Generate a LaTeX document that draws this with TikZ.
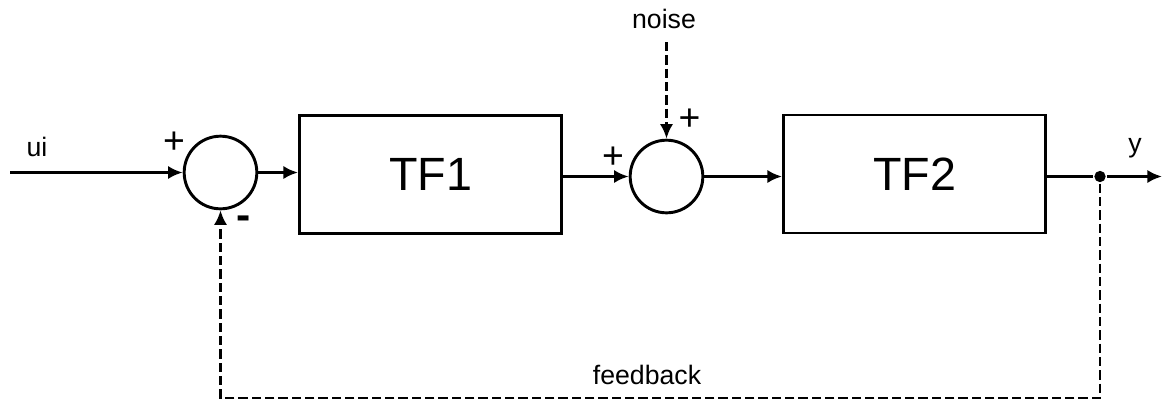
\documentclass[tikz,border=0pt]{standalone}
\usepackage{fontspec}
\setmainfont{Liberation Sans}
\usetikzlibrary{arrows.meta}

\tikzset{every picture/.style={line width=2.2pt}}
\tikzset{
  blockbox/.style={draw, minimum width=196.5pt, minimum height=88.5pt, inner sep=0pt, font=\fontsize{35}{40}\selectfont},
  sumcircle/.style={draw, circle, minimum size=54.5pt, inner sep=0pt},
  branchdot/.style={circle, fill, minimum size=8.5pt, inner sep=0pt},
  sig/.style={-{Latex[length=11pt,width=10pt]}},
  fb/.style={dash pattern=on 7pt off 3pt},
  lbl/.style={inner sep=0.75pt, font=\fontsize{20}{24}\selectfont},
  sgn/.style={inner sep=0.75pt, font=\fontsize{28}{30}\selectfont},
  neg/.style={inner sep=0.75pt, font=\fontsize{32}{34}\selectfont\bfseries}
}

\begin{document}
\begin{tikzpicture}[x=0.75pt,y=0.75pt,yscale=-1,xscale=1]
\useasboundingbox (0,0) rectangle (1163,401);

% Blocks and summing points
\node [sumcircle] (sumA) at (220.5,172.5) {};
\node [blockbox] (tfA) at (430.5,174.5) {TF1};
\node [sumcircle] (sumB) at (666.5,176.5) {};
\node [blockbox] (tfB) at (914.5,174) {TF2};
\node [branchdot] (branch) at (1100,176.5) {};

% Free ends
\coordinate (uin) at (10,172.5);
\coordinate (yout) at (1162,176.5);
\coordinate (noisetop) at (666.5,42);
\coordinate (fbright) at (1100,398);
\coordinate (fbleft) at (220.5,398);

% Forward path
\draw [sig] (uin) -- (sumA);
\draw [sig] (sumA.east) -- (sumA.east -| tfA.west);
\draw [sig] (tfA.east |- sumB) -- (sumB);
\draw [sig] (sumB.east) -- (sumB.east -| tfB.west);
\draw (tfB.east |- branch) -- (branch);
\draw [sig] (branch) -- (yout);

% Noise input
\draw [sig,fb] (noisetop) -- (sumB);

% Feedback path
\draw [sig,fb] (branch) -- (fbright) -- (fbleft) -- (sumA);

% Text Node
\node [lbl] (uilbl) at (37,147) {ui};
\node [lbl] (noiselbl) at (664,19) {noise};
\node [lbl] (ylbl) at (1135,148) {y};
\node [lbl] (fblbl) at (647,375) {feedback};
% Signs
\node [sgn] (plusA) at (174,142.5) {+};
\node [neg] (minusA) at (243.5,223) {-};
\node [sgn] (plusB) at (613,157.5) {+};
\node [sgn] (plusC) at (689.5,120) {+};

\end{tikzpicture}
\end{document}
